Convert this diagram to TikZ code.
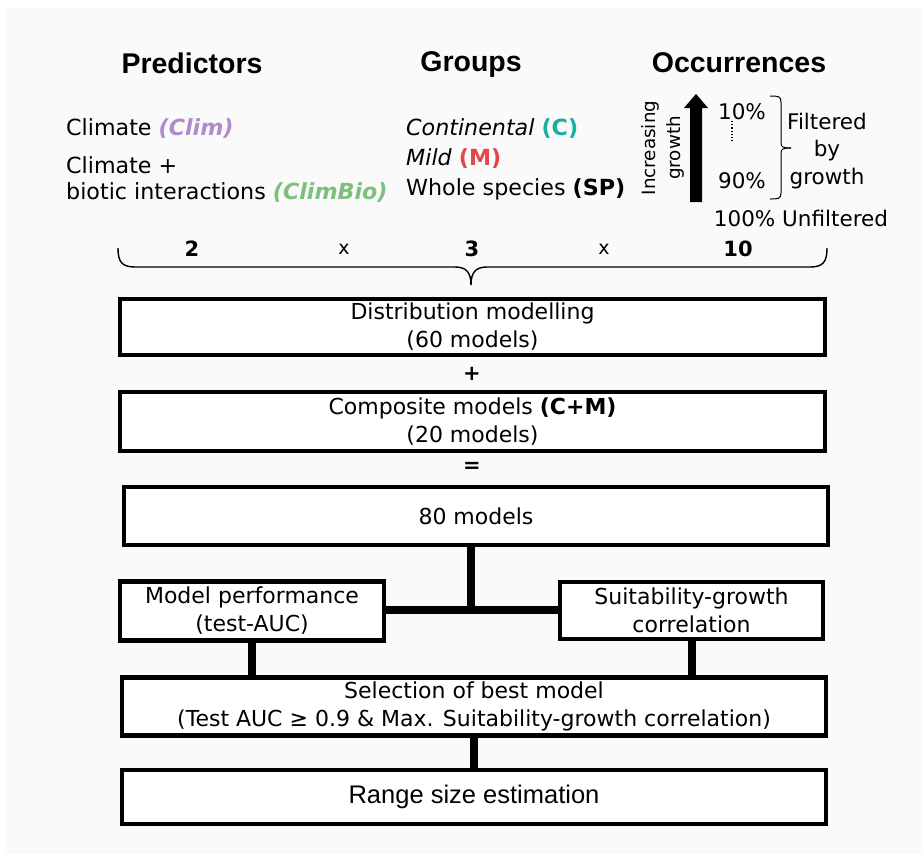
\documentclass[tikz,border=0pt]{standalone}
\usepackage{fontspec}
\setmainfont{DejaVu Sans}
\newfontfamily\hdrf{Liberation Sans}
\definecolor{bgc}{HTML}{FAFAFA}
\definecolor{climc}{HTML}{B08ACB}
\definecolor{biocol}{HTML}{7DC07D}
\definecolor{contc}{HTML}{19AE9E}
\definecolor{mildc}{HTML}{E0464B}
\begin{document}
\begin{tikzpicture}[x=1pt,y=-1pt,
  hdr/.style={font=\hdrf\bfseries\fontsize{28.5}{32}\selectfont, inner sep=0pt},
  txt/.style={font=\fontsize{22.2}{26}\selectfont, inner sep=0pt},
  smalltxt/.style={font=\fontsize{18.3}{22}\selectfont, inner sep=0pt},
  boxn/.style={draw=black, line width=4.5pt, fill=white, inner sep=0pt, align=center,
     font=\fontsize{22}{28}\selectfont},
  conn/.style={line width=8pt},
  brc/.style={line width=1.4pt}]
\useasboundingbox (0,0) rectangle (923,854);
\fill[white] (0,0) rectangle (923,854);
\fill[bgc] (5,8) rectangle (923,854);

% headers
\node[hdr] (hp) at (192,63) {Predictors};
\node[hdr] (hg) at (471,65) {Groups};
\node[hdr] (ho) at (739,63) {Occurrences};

% predictors
\node[txt, anchor=west] (p1) at (66,129) {Climate \textcolor{climc}{\textbf{\textit{(Clim)}}}};
\node[txt, anchor=west, align=left] (p2) at (66,180) {Climate +\\biotic interactions \textcolor{biocol}{\textbf{\textit{(ClimBio)}}}};

% groups
\node[txt, anchor=west] (g1) at (406,129) {\textit{Continental} \textcolor{contc}{\textbf{(C)}}};
\node[txt, anchor=west] (g2) at (406,159) {\textit{Mild} \textcolor{mildc}{\textbf{(M)}}};
\node[txt, anchor=west] (g3) at (406,189) {Whole species \textbf{(SP)}};

% occurrences
\node[smalltxt, rotate=90] (inc1) at (650,148) {Increasing};
\node[smalltxt, rotate=90] (inc2) at (675,148) {growth};
\fill[black] (690,202) -- (702,202) -- (702,108) -- (708,108) -- (696,94) -- (684,108) -- (690,108) -- cycle;
\node[txt, font=\fontsize{21.5}{26}\selectfont] (t10) at (742,112) {10\%};
\node[txt, font=\fontsize{21.5}{26}\selectfont] (t90) at (742,181) {90\%};
\coordinate (d1) at (732,121);
\coordinate (d2) at (732,142);
\draw[line width=1.2pt, dotted] (d1) -- (d2);
\draw[line width=1pt] (770,96) .. controls (778,96) and (781,96) .. (781,102) -- (781,143) .. controls (781,147) and (783,148) .. (791,148);
\draw[line width=1pt] (770,199) .. controls (778,199) and (781,199) .. (781,193) -- (781,153) .. controls (781,149) and (783,148) .. (791,148);
\node[txt, align=center, font=\fontsize{21.5}{27.5}\selectfont] (filt) at (827,151) {Filtered\\by\\growth};
\node[txt, font=\fontsize{21.5}{26}\selectfont] (unf) at (801,218) {100\% Unfiltered};

% brace
\draw[brc] (118,248) .. controls (118,262) and (122,267) .. (135,267) -- (455,267) .. controls (466,267) and (471,272) .. (471,285);
\draw[brc] (471,285) .. controls (471,272) and (476,267) .. (487,267) -- (810,267) .. controls (823,267) and (827,262) .. (827,248);
\node[txt, font=\bfseries\fontsize{21}{24}\selectfont] (n2) at (192,249) {2};
\node[txt, font=\fontsize{19}{24}\selectfont] (x1) at (344,249) {x};
\node[txt, font=\bfseries\fontsize{21}{24}\selectfont] (n3) at (472,249) {3};
\node[txt, font=\fontsize{19}{24}\selectfont] (x2) at (604,249) {x};
\node[txt, font=\bfseries\fontsize{21}{24}\selectfont] (n10) at (738,249) {10};

% boxes
\node[boxn, minimum width=705pt, minimum height=56pt] (b1) at (472.5,327) {Distribution modelling\\(60 models)};
\node[txt, font=\bfseries\fontsize{21}{24}\selectfont] (plus) at (472,374) {+};
\node[boxn, minimum width=705pt, minimum height=59pt] (b2) at (472.5,421.5) {Composite models \textbf{(C+M)}\\(20 models)};
\node[txt, font=\bfseries\fontsize{21}{24}\selectfont] (eq) at (472,467) {=};
\node[boxn, minimum width=704pt, minimum height=58pt] (b3) at (476,516) {80 models};
\node[boxn, minimum width=264pt, minimum height=59pt] (b4) at (252,611) {Model performance\\(test-AUC)};
\node[boxn, minimum width=263pt, minimum height=57pt] (b5) at (691.5,610.5) {Suitability-growth\\correlation};
\node[boxn, minimum width=704pt, minimum height=58pt] (b6) at (474,706.5) {Selection of best model\\(Test AUC ≥ 0.9 \& Max. Suitability-growth correlation)};
\node[boxn, minimum width=704pt, minimum height=54pt, font=\hdrf\fontsize{25.5}{28}\selectfont] (b7) at (474,797) {\raisebox{-2.5pt}{Range size estimation}};

% connectors
\coordinate (j) at (471,610);
\draw[conn] (b3.south -| j) -- (j);
\draw[conn] (b4.east |- j) -- (b5.west |- j);
\draw[conn] (b4.south) -- (b4.south |- b6.north);
\draw[conn] (b5.south) -- (b5.south |- b6.north);
\draw[conn] (b6.south) -- (b7.north);
\end{tikzpicture}
\end{document}
